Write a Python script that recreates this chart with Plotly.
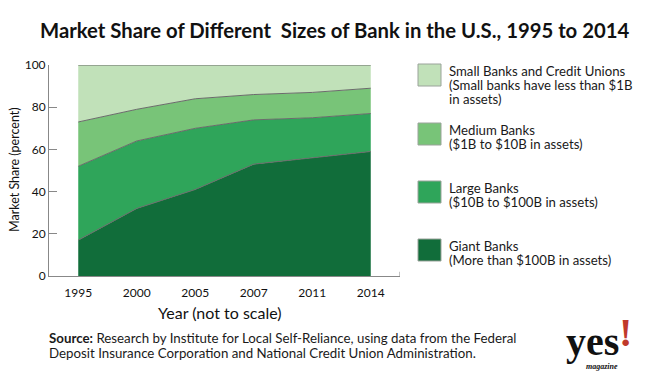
import plotly.graph_objects as go

years = ["1995", "2000", "2005", "2007", "2011", "2014"]
giant = [17, 32, 41, 53, 56, 59]
large = [35, 32, 29, 21, 19, 18]
medium = [21, 15, 14, 12, 12, 12]
small = [27, 21, 16, 14, 13, 11]

series_names = ["Giant Banks", "Large Banks", "Medium Banks", "Small Banks and Credit Unions"]
series_values = [giant, large, medium, small]
colors = ["#116d3a", "#2fa55a", "#78c478", "#c1e1b9"]

legend_lines = [
    ["Small Banks and Credit Unions", "(Small banks have less than $1B", "in assets)"],
    ["Medium Banks", "($1B to $10B in assets)"],
    ["Large Banks", "($10B to $100B in assets)"],
    ["Giant Banks", "(More than $100B in assets)"],
]
legend_colors = ["#c1e1b9", "#78c478", "#2fa55a", "#116d3a"]

# the page body has an 8px margin; lay out in page pixels and compensate
OFF = 8
W, H = 650 - OFF, 388 - OFF
PLOT_L, PLOT_R, PLOT_T, PLOT_B = 49, 400, 65, 276   # page pixels
L = PLOT_L - OFF
T = PLOT_T - OFF
R = W - (PLOT_R - OFF)
B = H - (PLOT_B - OFF)
PW, PH = W - L - R, H - T - B

def px(x):
    return (x - PLOT_L) / PW

def py(y):
    return (PLOT_B - y) / PH

FONT = "Lato"

fig = go.Figure()
xs = list(range(len(years)))
for name, vals, col in zip(series_names, series_values, colors):
    fig.add_trace(go.Scatter(
        x=xs, y=vals, name=name, stackgroup="one", mode="lines",
        line=dict(color="#6b6b6b", width=1), fillcolor=col,
        showlegend=False, hoverinfo="skip",
    ))

shapes = []
annotations = []

# right end tick of x axis
shapes.append(dict(type="line", xref="x", yref="paper", x0=5.5, x1=5.5, y0=0, y1=0.02,
                   line=dict(color="#888", width=1)))

# legend
sq_tops = [64, 123, 181, 239]
for top, col, lines in zip(sq_tops, legend_colors, legend_lines):
    shapes.append(dict(type="rect", xref="paper", yref="paper",
                       x0=px(418), x1=px(441), y0=py(top), y1=py(top + 22),
                       fillcolor=col, line=dict(color="#9aa39a", width=1)))
    for i, t in enumerate(lines):
        annotations.append(dict(xref="paper", yref="paper", x=px(447), y=py(top + 7 + 14 * i),
                                xanchor="left", yanchor="middle", text=t, showarrow=False,
                                font=dict(family=FONT, size=13.2, color="#1a1a1a")))

# title
annotations.append(dict(xref="paper", yref="paper", x=px(38), y=py(30), xanchor="left", yanchor="middle",
                        text="<b>Market Share of Different\u00a0 Sizes of Bank in the U.S., 1995 to 2014</b>",
                        showarrow=False, font=dict(family=FONT, size=20.3, color="#111")))
# axis titles
annotations.append(dict(xref="paper", yref="paper", x=px(220), y=py(312), xanchor="center", yanchor="middle",
                        text="Year (not to scale)", showarrow=False,
                        font=dict(family=FONT, size=16, color="#111")))
annotations.append(dict(xref="paper", yref="paper", x=px(14), y=py(170), xanchor="center", yanchor="middle",
                        text="Market Share (percent)", textangle=-90, showarrow=False,
                        font=dict(family=FONT, size=12.5, color="#111")))
# source
annotations.append(dict(xref="paper", yref="paper", x=px(47), y=py(338), xanchor="left", yanchor="middle",
                        text="<b>Source:</b> Research by Institute for Local Self-Reliance, using data from the Federal",
                        showarrow=False, font=dict(family=FONT, size=13.3, color="#1a1a1a")))
annotations.append(dict(xref="paper", yref="paper", x=px(47), y=py(353), xanchor="left", yanchor="middle",
                        text="Deposit Insurance Corporation and National Credit Union Administration.",
                        showarrow=False, font=dict(family=FONT, size=13.3, color="#1a1a1a")))
# logo
annotations.append(dict(xref="paper", yref="paper", x=px(592), y=py(341), xanchor="center", yanchor="middle",
                        text="<b>yes</b>", showarrow=False,
                        font=dict(family="Liberation Serif", size=40, color="#111")))
annotations.append(dict(xref="paper", yref="paper", x=px(625), y=py(357), xanchor="center", yanchor="bottom",
                        text="<b>!</b>", showarrow=False,
                        font=dict(family="Liberation Serif", size=40, color="#c0392b")))
annotations.append(dict(xref="paper", yref="paper", x=px(602), y=py(366), xanchor="center", yanchor="middle",
                        text="<b><i>magazine</i></b>", showarrow=False,
                        font=dict(family="Liberation Serif", size=8, color="#111")))

fig.update_layout(
    width=W, height=H, margin=dict(l=L, r=R, t=T, b=B, pad=0),
    paper_bgcolor="white", plot_bgcolor="white",
    shapes=shapes, annotations=annotations,
    font=dict(family=FONT, size=12, color="#111"),
    xaxis=dict(range=[-0.5, 5.5], tickvals=xs, ticktext=years, showgrid=False, zeroline=False,
               showline=True, linecolor="#888", linewidth=1, ticks="", ticklabelstandoff=6,
               tickfont=dict(family=FONT, size=12, color="#111")),
    yaxis=dict(range=[0, 100], tickvals=[0, 20, 40, 60, 80, 100], showgrid=False, zeroline=False,
               showline=True, linecolor="#888", linewidth=1, ticks="inside", ticklen=8,
               tickcolor="#888", tickfont=dict(family=FONT, size=12, color="#111")),
)

fig.write_html("out.html")
